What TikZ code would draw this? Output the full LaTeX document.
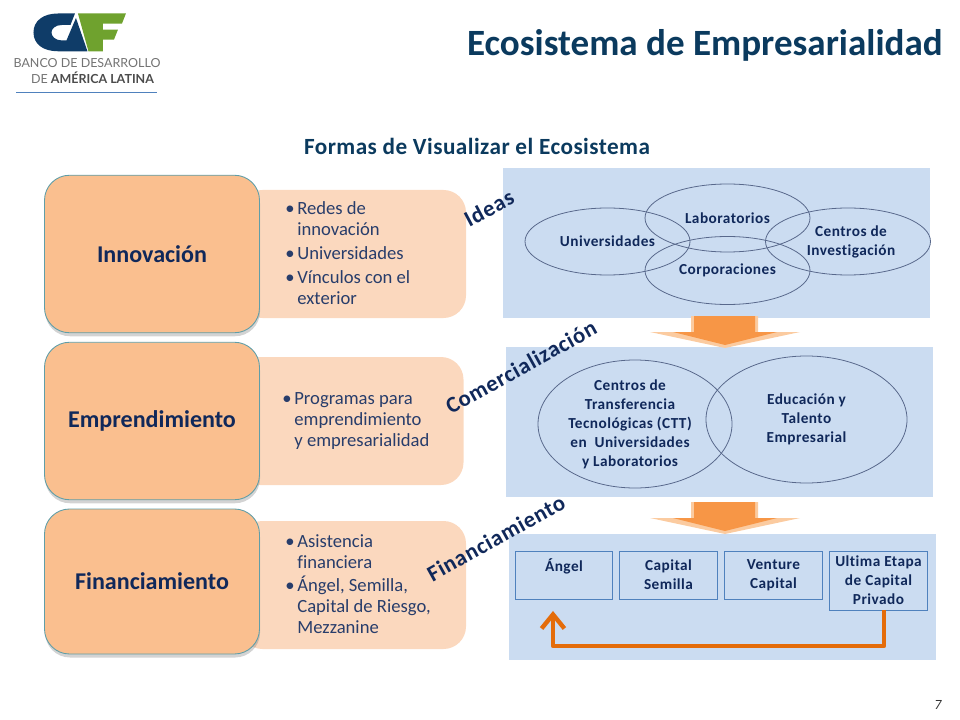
\documentclass[tikz,border=0pt]{standalone}
\usepackage{fontspec}
\setmainfont[Ligatures=NoCommon]{Carlito}
\newfontfamily\logofont{Lato}
\usetikzlibrary{shapes.geometric,shadows,arrows.meta}
\definecolor{navy}{HTML}{10285A}
\definecolor{titleblue}{HTML}{0B3A5E}
\definecolor{peach}{HTML}{FABF8F}
\definecolor{peachlight}{HTML}{FBD8BE}
\definecolor{panelblue}{HTML}{CBDCF1}
\definecolor{cafgreen}{HTML}{6FA22E}
\definecolor{cafblue}{HTML}{0F3C68}
\definecolor{wingpale}{HTML}{FBCBA0}
\definecolor{wingdark}{HTML}{F79646}
\definecolor{cardedge}{HTML}{5F9EA8}
\definecolor{stageedge}{HTML}{4F81BD}
\definecolor{arroworange}{HTML}{E46C0A}
\tikzset{
  cardbox/.style={draw=cardedge,line width=0.5pt,fill=peach,rounded corners=0.5cm,minimum width=4.3cm,minimum height=3.15cm,drop shadow={opacity=0.35,shadow xshift=0.3pt,shadow yshift=-2pt},text=navy,font=\fontsize{13.7}{16}\selectfont\bfseries},
  sidebox/.style={fill=peachlight,rounded corners=0.45cm,minimum width=4.52cm,minimum height=2.56cm},
  listtext/.style={text=navy!90!white,align=left,anchor=west,font=\fontsize{10.6}{11.9}\selectfont,inner sep=0pt},
  panelbox/.style={fill=panelblue,minimum width=8.54cm,minimum height=3cm},
  bubble/.style={draw=navy!70!white,line width=0.45pt,ellipse,inner sep=0pt,text=navy,align=center,font=\fontsize{8.7}{10.9}\selectfont\bfseries\addfontfeature{LetterSpace=3}},
  smalltext/.style={inner sep=0pt,text=navy,align=center,font=\fontsize{8.7}{10.9}\selectfont\bfseries\addfontfeature{LetterSpace=3}},
  stagebox/.style={draw=stageedge,line width=0.5pt,minimum width=1.95cm,inner sep=0pt,text=navy,align=center,font=\fontsize{8.7}{10.9}\selectfont\bfseries\addfontfeature{LetterSpace=3}},
  tiltlabel/.style={text=navy,font=\fontsize{12.9}{15}\selectfont\bfseries\addfontfeature{LetterSpace=3}},
}
\newcommand{\bul}{\llap{\textbullet\hspace{1.6pt}}}
\begin{document}
\begin{tikzpicture}[scale=0.2]
\useasboundingbox (0,0) rectangle (96,-72);
% logo
\begin{scope}[scale=0.1]
\fill [cafblue] (75,-13.5) -- (58,-13.5) .. controls (43,-13.5) and (33.5,-21) .. (33.5,-32.5) .. controls (33.5,-44) and (43,-51.3) .. (58,-51.3) -- (87.5,-51.3) -- (76,-18) -- (66.5,-40.5) -- (62,-40.5) .. controls (55,-40.5) and (51.5,-36) .. (51.5,-32.5) .. controls (51.5,-29) and (55,-25) .. (62,-25) -- (70.5,-25) -- cycle;
\fill [cafgreen] (78,-13.5) -- (126,-13.5) -- (122,-23.7) -- (103,-23.7) -- (103,-29.7) -- (118,-29.7) -- (114,-39.7) -- (103,-39.7) -- (103,-51.3) -- (88.5,-51.3) -- cycle;
\end{scope}
\node (bankname) [text=black!55,inner sep=0pt,font=\logofont\fontsize{7.1}{8}\selectfont] at (8.7,-6.3) {BANCO DE DESARROLLO};
\node (bankregion) [text=black!55,inner sep=0pt,font=\logofont\fontsize{7.1}{8}\selectfont] at (9.25,-7.8) {DE \textbf{\textcolor{black!70}{AMÉRICA LATINA}}};
\draw [stageedge,line width=0.4pt] (1.6,-9.2) -- (15.7,-9.2);
% headings
\node (title) [anchor=east,inner sep=0pt,text=titleblue,font=\fontsize{21.1}{24}\selectfont\bfseries] at (94.3,-4.55) {Ecosistema de Empresarialidad};
\node (subtitle) [inner sep=0pt,text=titleblue,font=\fontsize{13.2}{15}\selectfont\bfseries\addfontfeature{LetterSpace=2}] at (47.7,-14.65) {Formas de Visualizar el Ecosistema};
% left column
\node (ideaside) [sidebox] at (35.3,-25.4) {};
\node (startside) [sidebox] at (35.05,-42.1) {};
\node (fundside) [sidebox] at (35.3,-58.5) {};
\node (ideacard) [cardbox] at (15.2,-25.4) {Innovación};
\node (startcard) [cardbox] at (15.2,-42.1) {Emprendimiento};
\node (fundcard) [cardbox,minimum height=2.9cm] at (15.2,-58.15) {Financiamiento};
\node (idealist) [listtext] at (29.7,-25.3) {\bul Redes de\\innovación\\[1.6pt]\bul Universidades\\[1.6pt]\bul Vínculos con el\\exterior};
\node (startlist) [listtext] at (29.4,-42.1) {\bul Programas para\\emprendimiento\\y empresarialidad};
\node (fundlist) [listtext] at (29.7,-58.4) {\bul Asistencia\\financiera\\[1.6pt]\bul Ángel, Semilla,\\Capital de Riesgo,\\Mezzanine};
% right panels
\node (ideapanel) [panelbox] at (71.65,-24.3) {};
\node (startpanel) [panelbox] at (71.9,-42.2) {};
\node (fundpanel) [panelbox,minimum height=2.52cm] at (72.2,-59.7) {};
% block arrows
\foreach \y in {0,18.6} {
\fill [wingpale,yshift=-\y cm] (69.1,-31.6) -- (75.8,-31.6) -- (75.8,-33.2) -- (80,-33.2) -- (72.5,-34.8) -- (65,-33.2) -- (69.1,-33.2) -- cycle;
\fill [wingdark,yshift=-\y cm] (69.4,-31.6) -- (75.5,-31.6) -- (75.5,-33.2) -- (77.7,-33.2) -- (72.5,-34.5) -- (67.3,-33.2) -- (69.4,-33.2) -- cycle;
}
% ellipses
\node (uni) [bubble,minimum width=3.3cm,minimum height=1.34cm] at (60.75,-24.15) {Universidades};
\node (lab) [bubble,minimum width=3.3cm,minimum height=1.36cm] at (72.75,-21.8) {Laboratorios};
\node (inv) [bubble,minimum width=3.3cm,minimum height=1.34cm] at (84.8,-24.15) {};
\node (invtext) [smalltext] at (85.1,-24.2) {Centros de\\Investigación};
\node (corp) [bubble,minimum width=3.3cm,minimum height=1.36cm] at (72.75,-27.05) {Corporaciones};
\node (ctt) [bubble,minimum width=3.88cm,minimum height=2.56cm] at (63.5,-42.4) {};
\node (ctttext) [smalltext] at (63,-42.45) {Centros de\\Transferencia\\Tecnológicas (CTT)\\en\ \ Universidades\\y Laboratorios};
\node (talent) [bubble,minimum width=4.02cm,minimum height=2.54cm] at (80.65,-41.95) {Educación y\\Talento\\Empresarial};
% financing stages
\node (angel) [stagebox,minimum height=0.96cm] at (56.4,-57.5) {Ángel\\~};
\node (seed) [stagebox,minimum height=0.96cm] at (66.85,-57.5) {Capital\\Semilla};
\node (venture) [stagebox,minimum height=0.96cm] at (77.35,-57.5) {Venture\\Capital};
\node (late) [stagebox,minimum height=1.18cm] at (87.85,-58.05) {Ultima Etapa\\de Capital\\Privado};
\coordinate (lateout) at (88.4,-61);
\coordinate (angelin) at (55.3,-61.1);
\coordinate (turn) at (88.4,-64.6);
\draw [arroworange,line width=2.5pt,line join=round,-{Straight Barb[length=8pt,width=13pt]}] (lateout) -- (turn) -- (angelin |- turn) -- (angelin);
% tilted labels
\node (ideastag) [tiltlabel,rotate=28] at (48.9,-20.8) {Ideas};
\node (commtag) [tiltlabel,rotate=29] at (52.1,-36.7) {Comercialización};
\node (fundtag) [tiltlabel,rotate=29] at (49.6,-53.8) {Financiamiento};
\node (pagenum) [inner sep=0pt,font=\fontsize{8}{10}\selectfont\itshape,text=black!80] at (93.8,-70.5) {7};
\end{tikzpicture}
\end{document}
